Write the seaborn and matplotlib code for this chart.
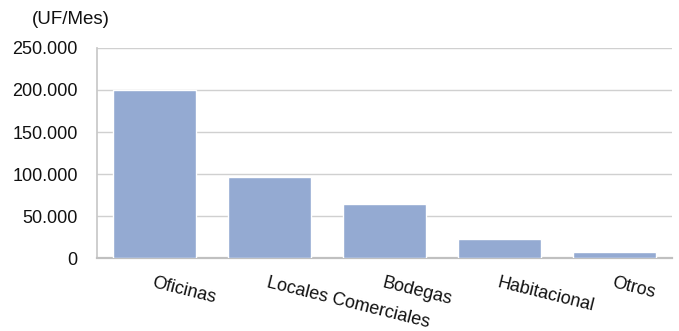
import matplotlib
matplotlib.use("Agg")
import matplotlib.pyplot as plt
import seaborn as sns
import pandas as pd
from matplotlib.ticker import FuncFormatter

categories = ["Oficinas", "Locales Comerciales", "Bodegas", "Habitacional", "Otros"]
values = [200000, 96500, 64500, 22500, 7000]
yticks = [0, 50000, 100000, 150000, 200000, 250000]

sns.set_theme(style="white")
plt.rcParams['font.family'] = ['Liberation Sans', 'DejaVu Sans']

df = pd.DataFrame({"cat": categories, "val": values})

fig = plt.figure(figsize=(6.79, 3.31), dpi=100)
ax = fig.add_axes([0.143, 0.2205, 0.847, 0.6345])
sns.barplot(data=df, x="cat", y="val", color="#94AAD2", saturation=1, width=0.72, ax=ax, zorder=3)

ax.set_ylim(0, 250000)
ax.set_yticks(yticks)
ax.yaxis.set_major_formatter(FuncFormatter(lambda v, p: f"{int(v):,}".replace(",", ".")))
ax.grid(axis="y", color="#d0d0d0", linewidth=1, zorder=0)
ax.set_axisbelow(True)
for s in ["top", "right"]:
    ax.spines[s].set_visible(False)
ax.spines["left"].set_color("#c8c8c8")
ax.spines["bottom"].set_color("#c0c0c0")
ax.spines["bottom"].set_linewidth(1.6)
ax.set_xlabel("")
ax.set_ylabel("")
ax.tick_params(axis="y", length=0, labelsize=13, pad=14, labelcolor="#111111")
ax.tick_params(axis="x", length=0, labelsize=13, pad=12, labelcolor="#111111")
for lbl in ax.get_xticklabels():
    lbl.set_rotation(-14)
    lbl.set_ha("left")
    lbl.set_rotation_mode("anchor")
ax.set_xlim(-0.5, 4.5)

fig.text(0.047, 0.94, "(UF/Mes)", fontsize=13.5, color="#111111", va="center", ha="left")

fig.savefig("out.png", dpi=100)
